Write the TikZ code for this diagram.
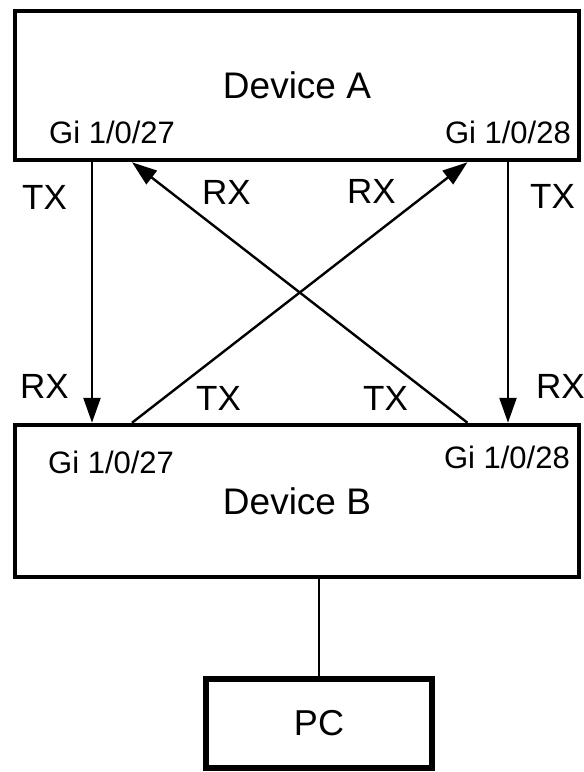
\documentclass[tikz,border=0pt]{standalone}
\usepackage{fontspec}
\setmainfont{Liberation Sans}
\usetikzlibrary{arrows.meta}
\begin{document}
\begin{tikzpicture}[x=1pt,y=-1pt,
  devbox/.style={draw, line width=4.5pt, rectangle, inner sep=0pt, font=\fontsize{37}{40}\selectfont},
  pcbox/.style={draw, line width=6.5pt, rectangle, inner sep=0pt, font=\fontsize{36}{40}\selectfont},
  port/.style={inner sep=0pt, font=\fontsize{31}{34}\selectfont},
  sig/.style={inner sep=0pt, font=\fontsize{35}{38}\selectfont},
  link/.style={line width=2.4pt, -{Triangle[length=25pt,width=17pt]}},
  plain/.style={line width=2pt}]
\useasboundingbox (0,0) rectangle (584,772);
\fill[white] (0,0) rectangle (584,772);
% boxes
\node[devbox, minimum width=564pt, minimum height=149pt] (A) at (297,85.5) {Device A};
\node[devbox, minimum width=564pt, minimum height=152pt] (B) at (297,501) {Device B};
\node[pcbox, minimum width=226pt, minimum height=89pt] (PC) at (319,723.5) {PC};
% helper x positions
\coordinate (cL) at (92,0);
\coordinate (cR) at (508,0);
\coordinate (xL) at (132,0);
\coordinate (xR) at (467.5,0);
% connectors
\draw[link] (A.south -| cL) -- (B.north -| cL);
\draw[link] (A.south -| cR) -- (B.north -| cR);
\draw[link] (B.north -| xL) -- (A.south -| xR);
\draw[link] (B.north -| xR) -- (A.south -| xL);
\draw[plain] (B.south -| PC.north) -- (PC.north);
% port labels
\node[port, anchor=base west] (a27) at (49,143) {Gi 1/0/27};
\node[port, anchor=base east] (a28) at (571,143) {Gi 1/0/28};
\node[port, anchor=base west] (b27) at (48,473) {Gi 1/0/27};
\node[port, anchor=base east] (b28) at (570,468) {Gi 1/0/28};
% signal labels
\node[sig, anchor=base west] (t1) at (22,209) {TX};
\node[sig, anchor=base west] (r1) at (202,204) {RX};
\node[sig, anchor=base west] (r2) at (347,203) {RX};
\node[sig, anchor=base west] (t2) at (530,208) {TX};
\node[sig, anchor=base west] (r3) at (20,398) {RX};
\node[sig, anchor=base west] (t3) at (196,410) {TX};
\node[sig, anchor=base west] (t4) at (363,410) {TX};
\node[sig, anchor=base west] (r4) at (536,398) {RX};
\end{tikzpicture}
\end{document}
